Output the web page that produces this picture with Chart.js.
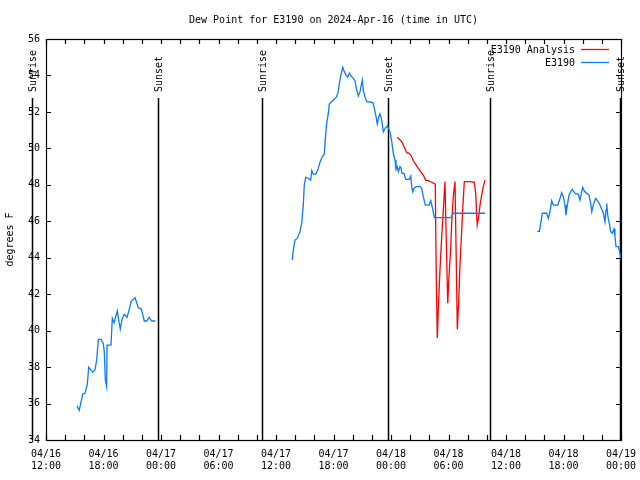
<!DOCTYPE html>
<html>
<head>
<meta charset="utf-8">
<script src="https://cdn.jsdelivr.net/npm/chart.js@4.4.4/dist/chart.umd.min.js"></script>
<style>
  html, body { margin: 0; padding: 0; background: #fff; }
  #wrap { width: 640px; height: 480px; }
</style>
</head>
<body>
<div id="wrap"><canvas id="chart" width="640" height="480"></canvas></div>
<script>
// ─── Data (hours since 2024-04-16 12:00 UTC, dew point °F) ──────────────────
const TITLE = 'Dew Point for E3190 on 2024-Apr-16 (time in UTC)';
const Y_TITLE = 'degrees F';
const START_DAY = 16;   // 04/16 12:00 is hour 0
const X_MIN = 0, X_MAX = 60, X_STEP = 2, X_LABEL_EVERY = 6;
const Y_MIN = 34, Y_MAX = 56, Y_STEP = 2;

// station obs (null = gap in record)
const obsHours = [
  3.23, 3.47, 3.73, 3.83, 4.07, 4.31, 4.46, 4.87, 5.11, 5.29, 5.46, 5.74, 5.98, 6.08, 6.19, 6.33, 6.37,
  6.78, 6.92, 7.10, 7.44, 7.54, 7.75, 7.93, 8.17, 8.45, 8.69, 8.87, 9.29, 9.39, 9.63, 9.94, 10.26,
  10.51, 10.75, 11.03, 11.41,
  18.0,
  25.70, 25.81, 25.98, 26.22, 26.50, 26.68, 26.85, 26.95, 27.10, 27.37, 27.62, 27.73, 27.89, 28.17,
  28.41, 28.59, 28.83, 29.04, 29.15, 29.29, 29.46, 29.56, 29.81, 30.08, 30.33, 30.50, 30.61, 30.78,
  30.96, 31.13, 31.31, 31.48, 31.65, 31.83, 32.07, 32.24, 32.42, 32.59, 32.77, 32.90, 33.01, 33.11,
  33.29, 33.46, 33.99, 34.15, 34.33, 34.44, 34.57, 34.68, 34.85, 35.03, 35.20, 35.38, 35.62, 35.90,
  36.07, 36.24, 36.42, 36.52, 36.66, 36.77, 36.94, 37.05, 37.15, 37.36, 37.54, 37.91, 38.06, 38.16,
  38.27, 38.40, 38.61, 39.03, 39.20, 39.37, 39.58, 39.97, 40.15, 40.31, 40.52, 42.26, 42.50, 45.81,
  48.5,
  51.27, 51.48, 51.65, 51.79, 52.25, 52.42, 52.59, 52.77, 52.94, 53.40, 53.64, 53.81, 53.98, 54.16,
  54.26, 54.40, 54.58, 54.75, 54.92, 55.20, 55.55, 55.72, 55.90, 56.00, 56.17, 56.42, 56.66, 56.84,
  56.95, 57.11, 57.36, 57.63, 57.81, 58.16, 58.33, 58.44, 58.51, 58.61, 58.78, 58.93, 59.09, 59.27,
  59.37, 59.48, 59.72, 59.90, 60.00
];
const obsDewF = [
  35.87, 35.63, 36.25, 36.52, 36.56, 37.07, 37.99, 37.71, 37.84, 38.39, 39.52, 39.52, 39.30, 38.85, 37.30, 36.93, 39.21,
  39.21, 40.68, 40.44, 41.08, 40.73, 40.09, 40.62, 40.90, 40.73, 41.17, 41.59, 41.81, 41.81, 41.26, 41.19, 40.53,
  40.53, 40.73, 40.53, 40.53,
  null,
  43.88, 44.42, 44.97, 45.06, 45.43, 45.89, 46.89, 47.99, 48.41, 48.36, 48.26, 48.78, 48.59, 48.59,
  48.90, 49.24, 49.54, 49.69, 50.55, 51.37, 51.92, 52.43, 52.56, 52.69, 52.83, 53.11, 53.57, 54.02,
  54.45, 54.21, 54.02, 53.90, 54.12, 53.97, 53.84, 53.71, 53.20, 52.87, 53.11, 53.48, 53.75, 53.20,
  52.83, 52.56, 52.53, 52.47, 52.01, 51.74, 51.34, 51.65, 51.89, 51.56, 50.91, 51.10, 51.23, 50.90,
  50.40, 49.73, 49.36, 48.85, 49.00, 48.72, 49.00, 48.91, 48.63, 48.63, 48.30, 48.30, 48.48, 47.90,
  47.62, 47.81, 47.90, 47.90, 47.81, 47.35, 46.89, 46.89, 47.13, 46.77, 46.20, 46.20, 46.44, 46.44,
  null,
  45.45, 45.45, 45.98, 46.44, 46.44, 46.16, 46.53, 47.13, 46.89, 46.89, 47.26, 47.57, 47.35, 46.89,
  46.34, 46.89, 47.44, 47.62, 47.75, 47.53, 47.48, 47.17, 47.62, 47.86, 47.66, 47.53, 47.44, 46.98,
  46.53, 46.89, 47.26, 47.07, 46.89, 46.44, 45.98, 46.62, 46.98, 46.34, 45.89, 45.43, 45.34, 45.58,
  45.16, 44.61, 44.61, 44.24, 43.91
];

// analysis
const anaHours = [
  36.66, 37.12, 37.36, 37.64, 37.91, 38.16, 38.33, 38.61, 38.85, 39.10, 39.37, 39.62, 39.89, 40.25,
  40.62, 40.70, 40.83, 40.94, 41.11, 41.29, 41.46, 41.63, 41.92, 42.05, 42.23, 42.33, 42.50, 42.68,
  42.92, 43.06, 43.20, 43.38, 43.48, 43.65, 44.24, 44.69, 44.84, 44.94, 45.00, 45.15, 45.29, 45.46,
  45.63, 45.81
];
const anaDewF = [
  50.61, 50.37, 50.09, 49.76, 49.73, 49.54, 49.32, 49.09, 48.90, 48.72, 48.54, 48.26, 48.23, 48.14,
  48.04, 43.87, 39.58, 41.23, 43.33, 45.16, 46.62, 48.18, 41.50, 42.96, 44.50, 45.89, 47.35, 48.18,
  40.07, 41.59, 43.60, 45.52, 46.62, 48.18, 48.18, 48.14, 47.53, 46.34, 45.80, 46.25, 46.89, 47.44,
  47.90, 48.26
];

// sunrise / sunset markers
const sunHours  = [-1.5, 11.69, 22.54, 35.72, 46.35, 59.85];
const sunLabels = ['Sunrise', 'Sunset', 'Sunrise', 'Sunset', 'Sunrise', 'Sunset'];

// ─── Styles ──────────────────────────────────────────────────────────────────
const FONT = "'DejaVu Sans Mono', monospace";
const BLUE = '#0a7cf5';
const RED  = '#ff0000';

function pad2(n) { return String(n).padStart(2, '0'); }

function hourLabel(v) {
  if (v % X_LABEL_EVERY !== 0) return '';
  const total = 12 + v;
  const day = START_DAY + Math.floor(total / 24);
  const hr = total % 24;
  return ['04/' + pad2(day), pad2(hr) + ':00'];
}

// ─── Plugin: frame, inward ticks, title, sun markers, legend ─────────────────
const decorPlugin = {
  id: 'decor',
  beforeDatasetsDraw(chart) {
    const { ctx, chartArea: a, scales: { x } } = chart;
    ctx.save();
    ctx.strokeStyle = '#000';
    ctx.fillStyle = '#000';
    ctx.lineWidth = 1.5;
    ctx.font = '10px ' + FONT;
    sunHours.forEach((h, i) => {
      const px = Math.round(x.getPixelForValue(h)) + 0.5;
      ctx.beginPath();
      ctx.moveTo(px, 98);
      ctx.lineTo(px, a.bottom);
      ctx.stroke();
      ctx.save();
      ctx.translate(px + 1, 92);
      ctx.rotate(-Math.PI / 2);
      ctx.textAlign = 'left';
      ctx.textBaseline = 'middle';
      ctx.fillText(sunLabels[i], 0, 0);
      ctx.restore();
    });
    ctx.restore();
  },
  afterDraw(chart) {
    const { ctx, chartArea: a, scales: { x, y } } = chart;
    ctx.save();
    ctx.strokeStyle = '#000';
    ctx.lineWidth = 1.2;
    ctx.strokeRect(a.left + 0.5, a.top + 0.5, a.right - a.left, a.bottom - a.top);

    const tl = 5;
    ctx.beginPath();
    x.ticks.forEach(t => {
      const px = Math.round(x.getPixelForValue(t.value)) + 0.5;
      ctx.moveTo(px, a.bottom); ctx.lineTo(px, a.bottom - tl);
      ctx.moveTo(px, a.top);    ctx.lineTo(px, a.top + tl);
    });
    y.ticks.forEach(t => {
      const py = Math.round(y.getPixelForValue(t.value)) + 0.5;
      ctx.moveTo(a.left, py);  ctx.lineTo(a.left + tl, py);
      ctx.moveTo(a.right, py); ctx.lineTo(a.right - tl, py);
    });
    ctx.stroke();

    // title
    ctx.fillStyle = '#000';
    ctx.font = '10px ' + FONT;
    ctx.textAlign = 'center';
    ctx.textBaseline = 'middle';
    ctx.fillText(TITLE, (a.left + a.right) / 2, 20);

    // y-axis title
    ctx.save();
    ctx.translate(10, (a.top + a.bottom) / 2);
    ctx.rotate(-Math.PI / 2);
    ctx.fillText(Y_TITLE, 0, 0);
    ctx.restore();

    // legend (inside plot, top right)
    ctx.textAlign = 'right';
    chart.data.datasets.forEach((ds, i) => {
      const ly = 50 + i * 13;
      ctx.fillStyle = '#000';
      ctx.fillText(ds.label, 575, ly);
      ctx.strokeStyle = ds.borderColor;
      ctx.lineWidth = 1.3;
      ctx.beginPath();
      ctx.moveTo(581, Math.round(ly) - 0.5);
      ctx.lineTo(609, Math.round(ly) - 0.5);
      ctx.stroke();
    });
    ctx.restore();
  },
};

// ─── Chart ───────────────────────────────────────────────────────────────────
Chart.defaults.font.family = FONT;
Chart.defaults.font.size = 10;
Chart.defaults.color = '#000';

const toPoints = (xs, ys) => xs.map((h, i) => ({ x: h, y: ys[i] }));

new Chart(document.getElementById('chart').getContext('2d'), {
  type: 'line',
  data: {
    datasets: [
      {
        label: 'E3190 Analysis',
        data: toPoints(anaHours, anaDewF),
        borderColor: RED,
        borderWidth: 1.3,
        pointRadius: 0,
        tension: 0,
        spanGaps: false,
        order: 1,
      },
      {
        label: 'E3190',
        data: toPoints(obsHours, obsDewF),
        borderColor: BLUE,
        borderWidth: 1.3,
        pointRadius: 0,
        tension: 0,
        spanGaps: false,
        order: 0,
      },
    ],
  },
  options: {
    responsive: false,
    animation: false,
    events: [],
    layout: { padding: { left: 0, right: 19, top: 39, bottom: 0 } },
    plugins: {
      legend: { display: false },
      title: { display: false },
      tooltip: { enabled: false },
    },
    scales: {
      x: {
        type: 'linear',
        min: X_MIN,
        max: X_MAX,
        grid: { display: false, drawTicks: false },
        border: { display: false },
        afterFit: s => { s.height = 40; s.paddingLeft = 0; s.paddingRight = 0; },
        ticks: {
          stepSize: X_STEP,
          autoSkip: false,
          maxRotation: 0,
          padding: 8,
          font: { size: 10, lineHeight: 1.2 },
          callback: v => hourLabel(v),
        },
      },
      y: {
        min: Y_MIN,
        max: Y_MAX,
        grid: { display: false, drawTicks: false },
        border: { display: false },
        afterFit: s => { s.width = 46; s.paddingTop = 0; s.paddingBottom = 0; },
        ticks: { stepSize: Y_STEP, padding: 6, font: { size: 10 } },
      },
    },
  },
  plugins: [decorPlugin],
});
</script>
</body>
</html>
